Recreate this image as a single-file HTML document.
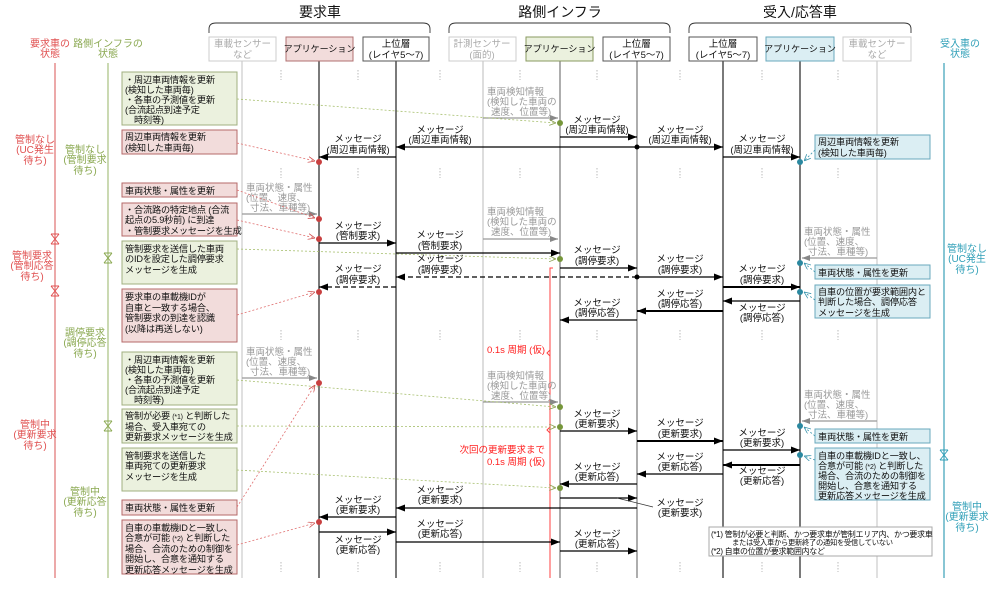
<!DOCTYPE html>
<html><head><meta charset="utf-8"><style>
html,body{margin:0;padding:0;background:#fff;}
svg{display:block;font-family:"Liberation Sans","Noto Sans CJK JP",sans-serif;}
.m{font-size:9.5px;fill:#111;text-anchor:middle;}
.g{font-size:9.5px;fill:#999;}
.b{font-size:9.2px;fill:#111;letter-spacing:-0.2px;}
.h{font-size:14px;fill:#111;text-anchor:middle;}
</style></head><body>
<svg width="1000" height="591" viewBox="0 0 1000 591" xmlns="http://www.w3.org/2000/svg">
<defs>
<marker id="a" markerWidth="9" markerHeight="7" refX="9" refY="3.5" orient="auto" markerUnits="userSpaceOnUse"><path d="M0,0L9,3.5L0,7z" fill="#000"/></marker>
<marker id="ag" markerWidth="8" markerHeight="6" refX="8" refY="3" orient="auto" markerUnits="userSpaceOnUse"><path d="M0,0L8,3L0,6z" fill="#888"/></marker>
<marker id="or" markerWidth="7" markerHeight="6" refX="7" refY="3" orient="auto" markerUnits="userSpaceOnUse"><path d="M0,0L7,3L0,6" fill="none" stroke="#d05050" stroke-width="0.8"/></marker>
<marker id="og" markerWidth="7" markerHeight="6" refX="7" refY="3" orient="auto" markerUnits="userSpaceOnUse"><path d="M0,0L7,3L0,6" fill="none" stroke="#8aa050" stroke-width="0.8"/></marker>
<marker id="ob" markerWidth="7" markerHeight="6" refX="7" refY="3" orient="auto" markerUnits="userSpaceOnUse"><path d="M0,0L7,3L0,6" fill="none" stroke="#3a95ad" stroke-width="0.8"/></marker>
</defs>

<!-- headers -->
<text class="h" x="320" y="17">要求車</text>
<text class="h" x="560" y="17">路側インフラ</text>
<text class="h" x="800" y="17">受入/応答車</text>
<path d="M209,33 V29 Q209,23 216,23 H423 Q430,23 430,29 V33" fill="none" stroke="#333" stroke-width="0.9"/>
<path d="M449,33 V29 Q449,23 456,23 H663 Q670,23 670,29 V33" fill="none" stroke="#333" stroke-width="0.9"/>
<path d="M689,33 V29 Q689,23 696,23 H904 Q911,23 911,29 V33" fill="none" stroke="#333" stroke-width="0.9"/>

<!-- lifelines -->
<g stroke-width="1.2">
<line x1="242" y1="61" x2="242" y2="578" stroke="#ccc"/>
<line x1="319" y1="61" x2="319" y2="578" stroke="#222"/>
<line x1="396" y1="61" x2="396" y2="578" stroke="#222"/>
<line x1="483" y1="61" x2="483" y2="578" stroke="#ddd" stroke-width="2"/>
<line x1="560" y1="61" x2="560" y2="578" stroke="#777"/>
<line x1="637" y1="61" x2="637" y2="578" stroke="#777"/>
<line x1="723" y1="61" x2="723" y2="578" stroke="#222"/>
<line x1="800" y1="61" x2="800" y2="578" stroke="#222"/>
<line x1="877" y1="61" x2="877" y2="578" stroke="#ccc"/>
<line x1="55" y1="63" x2="55" y2="578" stroke="#e07070"/>
<line x1="108" y1="63" x2="108" y2="578" stroke="#a8c080"/>
<line x1="944" y1="63" x2="944" y2="578" stroke="#3aa0b8"/>
</g>

<!-- lifeline boxes -->
<g font-size="9.5" text-anchor="middle">
<rect x="209" y="37" width="67" height="24" fill="#fff" stroke="#ccc"/>
<text x="242.5" y="47" fill="#aaa">車載センサー</text><text x="242.5" y="58" fill="#aaa">など</text>
<rect x="286" y="37" width="67" height="24" fill="#f2dcdb" stroke="#b07070"/>
<text x="319.5" y="52" fill="#111" font-size="9">アプリケーション</text>
<rect x="363" y="37" width="66" height="24" fill="#fff" stroke="#555"/>
<text x="396" y="47" fill="#111">上位層</text><text x="396" y="58" fill="#111">(レイヤ5～7)</text>
<rect x="449" y="37" width="67" height="24" fill="#fff" stroke="#ccc"/>
<text x="482" y="47" fill="#aaa">計測センサー</text><text x="482" y="58" fill="#aaa">(面的)</text>
<rect x="526" y="37" width="67" height="24" fill="#ebf1de" stroke="#8a9a60"/>
<text x="559.5" y="52" fill="#111" font-size="9">アプリケーション</text>
<rect x="603" y="37" width="67" height="24" fill="#fff" stroke="#555"/>
<text x="636.5" y="47" fill="#111">上位層</text><text x="636.5" y="58" fill="#111">(レイヤ5～7)</text>
<rect x="689" y="37" width="68" height="24" fill="#fff" stroke="#555"/>
<text x="723" y="47" fill="#111">上位層</text><text x="723" y="58" fill="#111">(レイヤ5～7)</text>
<rect x="766" y="37" width="68" height="24" fill="#dbeef3" stroke="#6aa8bd"/>
<text x="800" y="52" fill="#111" font-size="9">アプリケーション</text>
<rect x="843" y="37" width="68" height="24" fill="#fff" stroke="#ccc"/>
<text x="877" y="47" fill="#aaa">車載センサー</text><text x="877" y="58" fill="#aaa">など</text>
</g>

<!-- state labels -->
<g font-size="10" text-anchor="middle">
<g fill="#e05050">
<text x="50" y="47">要求車の</text><text x="50" y="57">状態</text>
<text x="35" y="143">管制なし</text><text x="35" y="153">(UC発生</text><text x="35" y="164">待ち)</text>
<text x="32" y="259">管制要求</text><text x="32" y="269">(管制応答</text><text x="32" y="280">待ち)</text>
<text x="35" y="428">管制中</text><text x="35" y="438">(更新要求</text><text x="35" y="449">待ち)</text>
</g>
<g fill="#8aa850">
<text x="108" y="47">路側インフラの</text><text x="108" y="57">状態</text>
<text x="85" y="153">管制なし</text><text x="85" y="163">(管制要求</text><text x="85" y="174">待ち)</text>
<text x="85" y="336">調停要求</text><text x="85" y="346">(調停応答</text><text x="85" y="357">待ち)</text>
<text x="85" y="495">管制中</text><text x="85" y="505">(更新応答</text><text x="85" y="516">待ち)</text>
</g>
<g fill="#31a0b8">
<text x="960" y="47">受入車の</text><text x="960" y="57">状態</text>
<text x="967" y="252">管制なし</text><text x="967" y="262">(UC発生</text><text x="967" y="273">待ち)</text>
<text x="967" y="510">管制中</text><text x="967" y="520">(更新要求</text><text x="967" y="531">待ち)</text>
</g>
</g>
<g fill="none" stroke-width="1">
<path d="M51,234H59M51,244H59M51,234L59,244M59,234L51,244" stroke="#e05050"/>
<path d="M51,286H59M51,296H59M51,286L59,296M59,286L51,296" stroke="#e05050"/>
<path d="M104,253H112M104,263H112M104,253L112,263M112,253L104,263" stroke="#8aa850"/>
<path d="M104,421H112M104,431H112M104,421L112,431M112,421L104,431" stroke="#8aa850"/>
<path d="M940,450H948M940,460H948M940,450L948,460M948,450L940,460" stroke="#31a0b8"/>
</g>

<!-- break marks -->
<g stroke="#aaa" stroke-dasharray="1.5,1.5" stroke-width="0.8">
<path d="M281,70V80M358,70V80M440,70V80M520,70V80M597,70V80M680,70V80M762,70V80M838,70V80"/>
<path d="M281,168V178M358,168V178M440,168V178M520,168V178M597,168V178M680,168V178M762,168V178M838,168V178"/>
<path d="M281,330V340M358,330V340M440,330V340M520,330V340M597,330V340M680,330V340M762,330V340M838,330V340"/>
<path d="M281,562V572M358,562V572M440,562V572M520,562V572M597,562V572M680,562V572M762,562V572M838,562V572"/>
</g>

<!-- left boxes -->
<g stroke-width="1">
<rect x="122" y="72" width="115" height="53" fill="#ebf1de" stroke="#a0b080"/>
<rect x="122" y="130" width="115" height="24" fill="#f2dcdb" stroke="#b56a6a"/>
<rect x="122" y="183" width="115" height="14" fill="#f2dcdb" stroke="#b56a6a"/>
<rect x="122" y="203" width="115" height="33" fill="#f2dcdb" stroke="#b56a6a"/>
<rect x="122" y="241" width="115" height="43" fill="#ebf1de" stroke="#a0b080"/>
<rect x="122" y="289" width="115" height="53" fill="#f2dcdb" stroke="#b56a6a"/>
<rect x="122" y="352" width="115" height="53" fill="#ebf1de" stroke="#a0b080"/>
<rect x="122" y="409" width="115" height="34" fill="#ebf1de" stroke="#a0b080"/>
<rect x="122" y="448" width="115" height="43" fill="#ebf1de" stroke="#a0b080"/>
<rect x="122" y="500" width="115" height="15" fill="#f2dcdb" stroke="#b56a6a"/>
<rect x="122" y="520" width="115" height="54" fill="#f2dcdb" stroke="#b56a6a"/>
<rect x="815" y="135" width="115" height="24" fill="#dbeef3" stroke="#6aa8bd"/>
<rect x="815" y="265" width="115" height="14" fill="#dbeef3" stroke="#6aa8bd"/>
<rect x="815" y="285" width="115" height="33" fill="#dbeef3" stroke="#6aa8bd"/>
<rect x="815" y="429" width="115" height="14" fill="#dbeef3" stroke="#6aa8bd"/>
<rect x="815" y="448" width="115" height="52" fill="#dbeef3" stroke="#6aa8bd"/>
<rect x="709" y="527" width="223" height="29" fill="#fff" stroke="#aaa"/>
</g>
<g class="b">
<text x="125" y="83">・周辺車両情報を更新</text><text x="125" y="93"> (検知した車両毎)</text><text x="125" y="103">・各車の予測値を更新</text><text x="125" y="113"> (合流起点到達予定</text><text x="125" y="123">　時刻等)</text>
<text x="125" y="140">周辺車両情報を更新</text><text x="125" y="151"> (検知した車両毎)</text>
<text x="125" y="194">車両状態・属性を更新</text>
<text x="125" y="213">・合流路の特定地点 (合流</text><text x="125" y="223"> 起点の5.9秒前) に到達</text><text x="125" y="234">・管制要求メッセージを生成</text>
<text x="125" y="252">管制要求を送信した車両</text><text x="125" y="262">のIDを設定した調停要求</text><text x="125" y="273">メッセージを生成</text>
<text x="125" y="300">要求車の車載機IDが</text><text x="125" y="311">自車と一致する場合、</text><text x="125" y="321">管制要求の到達を認識</text><text x="125" y="332">(以降は再送しない)</text>
<text x="125" y="363">・周辺車両情報を更新</text><text x="125" y="373"> (検知した車両毎)</text><text x="125" y="383">・各車の予測値を更新</text><text x="125" y="393"> (合流起点到達予定</text><text x="125" y="403">　時刻等)</text>
<text x="125" y="419">管制が必要 <tspan font-size="7">(*1)</tspan> と判断した</text><text x="125" y="430">場合、受入車宛ての</text><text x="125" y="440">更新要求メッセージを生成</text>
<text x="125" y="459">管制要求を送信した</text><text x="125" y="469">車両宛ての更新要求</text><text x="125" y="480">メッセージを生成</text>
<text x="125" y="511">車両状態・属性を更新</text>
<text x="125" y="531">自車の車載機IDと一致し、</text><text x="125" y="541">合意が可能 <tspan font-size="7">(*2)</tspan> と判断した</text><text x="125" y="552">場合、合流のための制御を</text><text x="125" y="562">開始し、合意を通知する</text><text x="125" y="573">更新応答メッセージを生成</text>
<text x="818" y="145">周辺車両情報を更新</text><text x="818" y="156"> (検知した車両毎)</text>
<text x="818" y="276">車両状態・属性を更新</text>
<text x="818" y="295">自車の位置が要求範囲内と</text><text x="818" y="305">判断した場合、調停応答</text><text x="818" y="316">メッセージを生成</text>
<text x="818" y="440">車両状態・属性を更新</text>
<text x="818" y="459">自車の車載機IDと一致し、</text><text x="818" y="469">合意が可能 <tspan font-size="7">(*2)</tspan> と判断した</text><text x="818" y="479">場合、合流のための制御を</text><text x="818" y="489">開始し、合意を通知する</text><text x="818" y="499">更新応答メッセージを生成</text>
<g font-size="8" letter-spacing="-0.3"><text x="711" y="537">(*1) 管制が必要と判断、かつ要求車が管制エリア内、かつ要求車</text><text x="711" y="545" font-size="7.3">　　　または受入車から更新終了の通知を受信していない</text><text x="711" y="554">(*2) 自車の位置が要求範囲内など</text></g>
</g>

<!-- red bracket -->
<g stroke="#ff4040" fill="none" stroke-width="1">
<path d="M553,268H550V578"/>
<path d="M550,350L547,353L550,356"/>
<path d="M550,427L547,430L550,433"/>
</g>
<g font-size="9.5" fill="#ff2020" text-anchor="end">
<text x="545" y="353">0.1s 周期 (仮)</text>
<text x="545" y="453">次回の更新要求まで</text><text x="545" y="465">0.1s 周期 (仮)</text>
</g>

<!-- gray sensor arrows -->
<g stroke="#999" stroke-width="1.2" marker-end="url(#ag)">
<line x1="483" y1="118" x2="558" y2="118"/>
<line x1="242" y1="214" x2="317" y2="214"/>
<line x1="483" y1="239" x2="558" y2="239"/>
<line x1="877" y1="258" x2="802" y2="258"/>
<line x1="242" y1="378" x2="317" y2="378"/>
<line x1="483" y1="402" x2="558" y2="402"/>
<line x1="877" y1="421" x2="802" y2="421"/>
</g>
<g class="g">
<text x="487" y="95">車両検知情報</text><text x="487" y="105">(検知した車両の</text><text x="491" y="115"> 速度、位置等)</text>
<text x="246" y="191">車両状態・属性</text><text x="246" y="201">(位置、速度、</text><text x="250" y="211"> 寸法、車種等)</text>
<text x="487" y="215">車両検知情報</text><text x="487" y="225">(検知した車両の</text><text x="491" y="235"> 速度、位置等)</text>
<text x="804" y="235">車両状態・属性</text><text x="804" y="245">(位置、速度、</text><text x="808" y="255"> 寸法、車種等)</text>
<text x="246" y="355">車両状態・属性</text><text x="246" y="365">(位置、速度、</text><text x="250" y="375"> 寸法、車種等)</text>
<text x="487" y="379">車両検知情報</text><text x="487" y="389">(検知した車両の</text><text x="491" y="399"> 速度、位置等)</text>
<text x="804" y="398">車両状態・属性</text><text x="804" y="408">(位置、速度、</text><text x="808" y="418"> 寸法、車種等)</text>
</g>

<!-- dashed annotation links -->
<g fill="none" stroke-width="0.8" stroke-dasharray="2,2">
<g stroke="#a8c070" marker-end="url(#og)">
<line x1="237" y1="99" x2="556" y2="123"/>
<line x1="237" y1="249" x2="556" y2="259"/>
<line x1="237" y1="380" x2="556" y2="407"/>
<line x1="237" y1="426" x2="556" y2="427"/>
<line x1="237" y1="470" x2="556" y2="488"/>
</g>
<g stroke="#e07070" marker-end="url(#or)">
<line x1="237" y1="143" x2="315" y2="161"/>
<line x1="237" y1="190" x2="315" y2="218"/>
<line x1="237" y1="220" x2="315" y2="238"/>
<line x1="237" y1="315" x2="315" y2="292"/>
<line x1="237" y1="507" x2="315" y2="385"/>
<line x1="237" y1="545" x2="315" y2="523"/>
</g>
<g stroke="#3a95ad" marker-end="url(#ob)">
<line x1="815" y1="150" x2="804" y2="161"/>
<line x1="815" y1="272" x2="804" y2="263"/>
<line x1="815" y1="300" x2="804" y2="292"/>
<line x1="815" y1="436" x2="804" y2="427"/>
<line x1="815" y1="460" x2="804" y2="456"/>
</g>
</g>

<!-- messages -->
<g stroke="#000" stroke-width="1.3" marker-end="url(#a)">
<line x1="560" y1="137" x2="637" y2="137"/>
<line x1="637" y1="147" x2="396" y2="147"/>
<line x1="637" y1="147" x2="723" y2="147"/>
<line x1="396" y1="157" x2="319" y2="157"/>
<line x1="723" y1="157" x2="800" y2="157"/>
<line x1="319" y1="243" x2="396" y2="243"/>
<line x1="396" y1="253" x2="560" y2="253"/>
<line x1="560" y1="268" x2="637" y2="268"/>
<line x1="637" y1="277" x2="396" y2="277" stroke-dasharray="5,3"/>
<line x1="637" y1="277" x2="723" y2="277"/>
<line x1="396" y1="287" x2="319" y2="287" stroke-dasharray="5,3"/>
<line x1="723" y1="287" x2="800" y2="287" stroke-width="2"/>
<line x1="800" y1="301" x2="723" y2="301"/>
<line x1="723" y1="311" x2="637" y2="311" stroke-width="2"/>
<line x1="637" y1="320" x2="560" y2="320"/>
<line x1="560" y1="431" x2="637" y2="431"/>
<line x1="637" y1="441" x2="723" y2="441" stroke-width="2"/>
<line x1="723" y1="450" x2="800" y2="450"/>
<line x1="800" y1="465" x2="723" y2="465" stroke-width="2"/>
<line x1="723" y1="474" x2="637" y2="474"/>
<line x1="637" y1="484" x2="560" y2="484"/>
<line x1="560" y1="498" x2="637" y2="498"/>
<line x1="637" y1="508" x2="396" y2="508"/>
<line x1="396" y1="517" x2="319" y2="517"/>
<line x1="319" y1="532" x2="396" y2="532"/>
<line x1="396" y1="542" x2="560" y2="542"/>
<line x1="560" y1="551" x2="637" y2="551"/>
</g>
<line x1="617" y1="498" x2="653" y2="507" stroke="#333" stroke-width="0.7"/>

<!-- dots -->
<g>
<circle cx="637" cy="147" r="2.5" fill="#000"/><circle cx="637" cy="277" r="2.5" fill="#000"/>
<g fill="#c84040"><circle cx="319" cy="162" r="3"/><circle cx="319" cy="219" r="3"/><circle cx="319" cy="239" r="3"/><circle cx="319" cy="292" r="3"/><circle cx="319" cy="383" r="3"/><circle cx="319" cy="522" r="3"/></g>
<g fill="#76963a"><circle cx="560" cy="123" r="3"/><circle cx="560" cy="259" r="3"/><circle cx="560" cy="407" r="3"/><circle cx="560" cy="427" r="3"/><circle cx="560" cy="488" r="3"/></g>
<g fill="#2a88a0"><circle cx="800" cy="162" r="3"/><circle cx="800" cy="263" r="3"/><circle cx="800" cy="292" r="3"/><circle cx="800" cy="426" r="3"/><circle cx="800" cy="455" r="3"/></g>
</g>

<!-- message labels -->
<g class="m">
<text x="597" y="123">メッセージ</text><text x="597" y="133">(周辺車両情報)</text>
<text x="440" y="133">メッセージ</text><text x="440" y="143">(周辺車両情報)</text>
<text x="680" y="133">メッセージ</text><text x="680" y="143">(周辺車両情報)</text>
<text x="358" y="142">メッセージ</text><text x="358" y="153">(周辺車両情報)</text>
<text x="762" y="142">メッセージ</text><text x="762" y="153">(周辺車両情報)</text>
<text x="358" y="229">メッセージ</text><text x="358" y="239">(管制要求)</text>
<text x="440" y="238">メッセージ</text><text x="440" y="249">(管制要求)</text>
<text x="597" y="253">メッセージ</text><text x="597" y="264">(調停要求)</text>
<text x="440" y="262">メッセージ</text><text x="440" y="273">(調停要求)</text>
<text x="680" y="262">メッセージ</text><text x="680" y="273">(調停要求)</text>
<text x="358" y="272">メッセージ</text><text x="358" y="283">(調停要求)</text>
<text x="762" y="272">メッセージ</text><text x="762" y="283">(調停要求)</text>
<text x="762" y="311">メッセージ</text><text x="762" y="321">(調停応答)</text>
<text x="680" y="297">メッセージ</text><text x="680" y="307">(調停応答)</text>
<text x="597" y="306">メッセージ</text><text x="597" y="316">(調停応答)</text>
<text x="597" y="417">メッセージ</text><text x="597" y="427">(更新要求)</text>
<text x="680" y="426">メッセージ</text><text x="680" y="437">(更新要求)</text>
<text x="762" y="436">メッセージ</text><text x="762" y="446">(更新要求)</text>
<text x="762" y="474">メッセージ</text><text x="762" y="484">(更新応答)</text>
<text x="680" y="460">メッセージ</text><text x="680" y="470">(更新応答)</text>
<text x="597" y="470">メッセージ</text><text x="597" y="480">(更新応答)</text>
<text x="440" y="493">メッセージ</text><text x="440" y="503">(更新要求)</text>
<text x="680" y="506">メッセージ</text><text x="680" y="516">(更新要求)</text>
<text x="358" y="503">メッセージ</text><text x="358" y="513">(更新要求)</text>
<text x="358" y="543">メッセージ</text><text x="358" y="553">(更新応答)</text>
<text x="440" y="527">メッセージ</text><text x="440" y="537">(更新応答)</text>
<text x="597" y="537">メッセージ</text><text x="597" y="547">(更新応答)</text>
</g>
</svg>
</body></html>
